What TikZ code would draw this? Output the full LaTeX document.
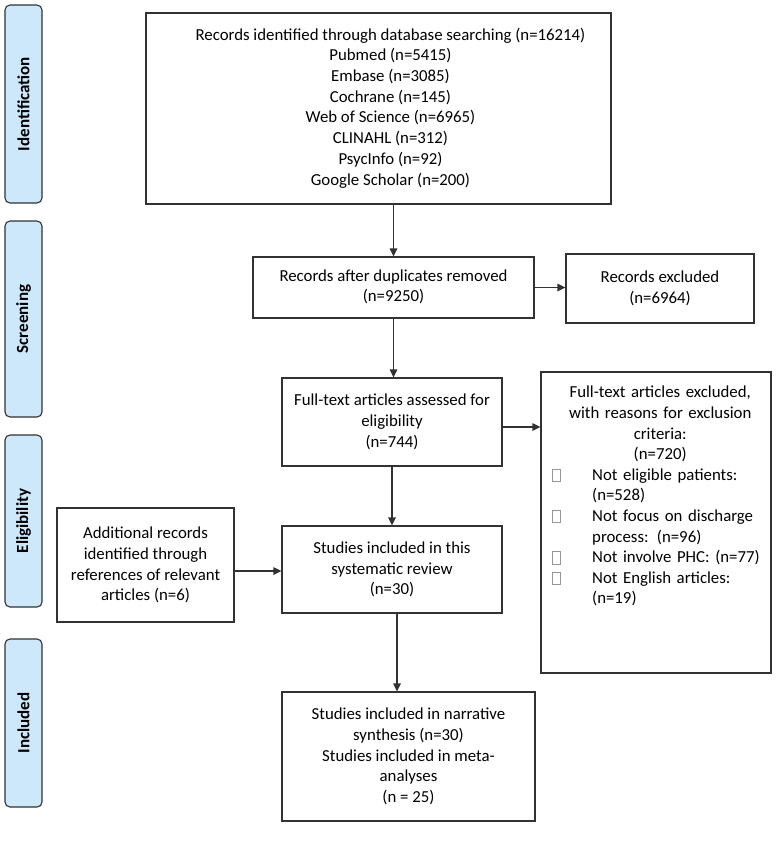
\documentclass[tikz,border=0pt]{standalone}
\usepackage{fontspec}
\setmainfont{Carlito}
\usetikzlibrary{arrows.meta,calc}
\definecolor{stageblue}{RGB}{206,232,251}
\definecolor{linegray}{RGB}{50,50,50}
\definecolor{glyphgray}{RGB}{150,150,150}
\newcommand{\bulglyph}{\makebox[43pt][l]{\hspace{3pt}{\color{glyphgray}\setlength{\fboxsep}{0pt}\setlength{\fboxrule}{0.7pt}\raisebox{-1pt}{\fbox{\rule{0pt}{11.5pt}\hspace{7pt}}}}}}
\newcommand{\bulitem}[1]{\par\hangindent=43pt\hangafter=1\noindent\bulglyph #1\par}
\begin{document}
\begin{tikzpicture}[x=1pt,y=-1pt,
  box/.style={draw=linegray, line width=1.2pt, rectangle, inner sep=0pt, align=center,
    font=\fontsize{16.8}{20.7}\selectfont},
  stage/.style={draw=linegray, line width=1.1pt, fill=stageblue, rounded corners=5pt,
    rotate=90, minimum height=37pt, inner sep=0pt,
    font=\fontsize{17}{20}\selectfont\bfseries},
  arr/.style={draw=linegray, line width=1.2pt, -{Triangle[length=8pt,width=7.5pt]}}]
\useasboundingbox (0,0) rectangle (778,841);

% stage labels
\node[stage, minimum width=198pt] (sid) at (23.5,104) {Identification};
\node[stage, minimum width=196pt] (sscr) at (23.5,319) {Screening};
\node[stage, minimum width=172pt] (selig) at (23.5,521) {Eligibility};
\node[stage, minimum width=168pt] (sincl) at (23.5,723) {Included};

% boxes
\node[box, minimum width=465pt, minimum height=191pt] (top) at (378.5,108.5)
  {\begin{tabular}{@{\hspace{24pt}}c@{}}
   Records identified through database searching (n=16214)\\
   Pubmed (n=5415)\\ Embase (n=3085)\\ Cochrane (n=145)\\ Web of Science (n=6965)\\
   CLINAHL (n=312)\\ PsycInfo (n=92)\\ Google Scholar (n=200)
   \end{tabular}};

\node[box, minimum width=281pt, minimum height=61pt] (dups) at (393.5,287.5)
  {\raisebox{-2.5pt}{\begin{tabular}{@{}c@{}}Records after duplicates removed\\ (n=9250)\end{tabular}}};

\node[box, minimum width=188pt, minimum height=69pt] (recexcl) at (660,288.5)
  {Records excluded\\ (n=6964)};

\node[box, minimum width=220pt, minimum height=88pt] (assessed) at (392,422)
  {Full-text articles assessed for\\ eligibility\\ (n=744)};

\node[box, minimum width=230pt, minimum height=301pt] (ftexcl) at (656,522.5) {};
\node[anchor=north west, inner sep=0pt, text width=222pt, align=left,
  font=\fontsize{16.8}{20.6}\selectfont] (ftexcltext) at (549,386)
  {{\centering Full-text articles excluded,\\ with reasons for exclusion\\ criteria:\\ (n=720)\par}%
   \bulitem{Not eligible patients:\newline (n=528)}%
   \bulitem{Not focus on discharge\newline process: (n=96)}%
   \bulitem{Not involve PHC: (n=77)}%
   \bulitem{Not English articles:\newline (n=19)}};

\node[box, minimum width=220pt, minimum height=87pt] (review) at (392,569.5)
  {Studies included in this\\ systematic review\\ (n=30)};

\node[box, minimum width=177pt, minimum height=114pt] (additional) at (145.5,565)
  {Additional records\\ identified through\\ references of relevant\\ articles (n=6)};

\node[box, minimum width=253pt, minimum height=129pt] (narrative) at (408.5,756.5)
  {Studies included in narrative\\ synthesis (n=30)\\ Studies included in meta-\\ analyses\\ (n = 25)};

% connector anchors
\coordinate (aE) at ([yshift=-5pt]assessed.east);
\coordinate (adE) at ([yshift=-6pt]additional.east);
\coordinate (rS) at ([xshift=5pt]review.south);

% connectors
\draw[arr] (dups.north |- top.south) -- (dups.north);
\draw[arr] (dups.south) -- (assessed.north -| dups.south);
\draw[arr] (dups.east) -- (recexcl.west |- dups.east);
\draw[arr] (aE) -- (ftexcl.west |- aE);
\draw[arr] (assessed.south) -- (review.north);
\draw[arr] (adE) -- (review.west |- adE);
\draw[arr] (rS) -- (rS |- narrative.north);
\end{tikzpicture}
\end{document}
